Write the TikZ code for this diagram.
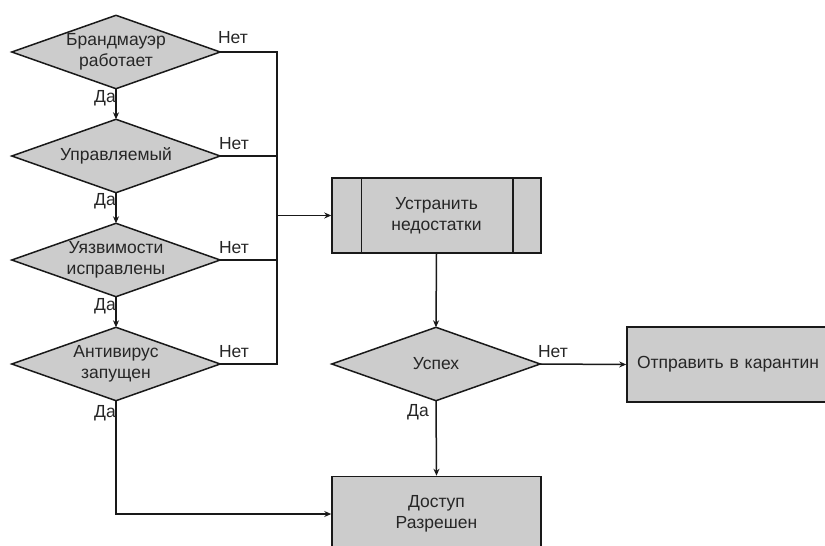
\documentclass[tikz,border=0pt]{standalone}
\usepackage{fontspec}
\setmainfont{Liberation Sans}
\usetikzlibrary{arrows.meta,backgrounds}
\definecolor{boxfill}{RGB}{204,204,204}
\definecolor{linec}{RGB}{25,25,25}
\begin{document}
\begin{tikzpicture}[x=1pt,y=-1pt,
  font=\fontsize{17.5}{20.5}\selectfont,
  dec/.style={rectangle,inner sep=0pt,minimum width=208pt,minimum height=73pt,
    align=center,text=black!85},
  decshape/.style={fill=boxfill,draw=linec,line width=1.5pt,line join=miter},
  boxx/.style={rectangle,draw=linec,fill=boxfill,line width=1.5pt,inner sep=0pt,
    minimum width=209pt,minimum height=75pt,align=center,text=black!85},
  conn/.style={draw=linec,line width=1.5pt},
  arr/.style={conn,-{Stealth[length=7pt,width=6pt]}},
  lbl/.style={inner sep=0pt,text=black!85}]
\useasboundingbox (0,0) rectangle (825,546);
\begin{scope}
\clip (0,0) rectangle (825,546);
\node[dec] (d1) at (116,52) {Брандмауэр\\работает};
\node[dec] (d2) at (116,156) {Управляемый};
\node[dec] (d3) at (116,260) {Уязвимости\\исправлены};
\node[dec] (d4) at (116,364) {Антивирус\\запущен};
\node[dec] (ok) at (436,364) {Успех};
\begin{scope}[on background layer]
\foreach \n in {d1,d2,d3,d4,ok}{
  \path[decshape] (\n.north) -- (\n.east) -- (\n.south) -- (\n.west) -- cycle;
}
\end{scope}
\node[boxx] (fix) at (436.5,215.5) {Устранить\\недостатки};
\draw[conn] ([xshift=30pt]fix.north west) -- ([xshift=30pt]fix.south west);
\draw[conn] ([xshift=-29pt]fix.north east) -- ([xshift=-29pt]fix.south east);
\node[boxx,minimum width=206pt,text width=190pt,align=left] (quar) at (730,364.5) {\hspace*{2pt}Отправить в карантин};
\node[boxx] (acc) at (436.5,514) {Доступ\\Разрешен};

\coordinate (j1) at (277,52);
\coordinate (j2) at (277,156);
\coordinate (j3) at (277,260);
\coordinate (j4) at (277,364);
\coordinate (jm) at (277,215.5);
\coordinate (b4) at (116,514);

\draw[conn] (d1.east) -- (j1) -- (j4) -- (d4.east);
\draw[conn] (d2.east) -- (j2);
\draw[conn] (d3.east) -- (j3);
\draw[arr] (jm) -- (fix.west);

\draw[arr] (d1.south) -- (d2.north);
\draw[arr] (d2.south) -- (d3.north);
\draw[arr] (d3.south) -- (d4.north);
\draw[arr] (d4.south) -- (b4) -- (acc.west);
\draw[arr] (fix.south) -- (ok.north);
\draw[arr] (ok.east) -- (quar.west);
\draw[arr] (ok.south) -- (acc.north);

\node[lbl] (n1) at (233,38) {Нет};
\node[lbl] (n2) at (234,144) {Нет};
\node[lbl] (n3) at (234,248) {Нет};
\node[lbl] (n4) at (234,352) {Нет};
\node[lbl] (n5) at (553,352) {Нет};
\node[lbl] (y1) at (105,98) {Да};
\node[lbl] (y2) at (105,201) {Да};
\node[lbl] (y3) at (105,306) {Да};
\node[lbl] (y4) at (105,413) {Да};
\node[lbl] (y5) at (418,412) {Да};
\end{scope}
\end{tikzpicture}
\end{document}
